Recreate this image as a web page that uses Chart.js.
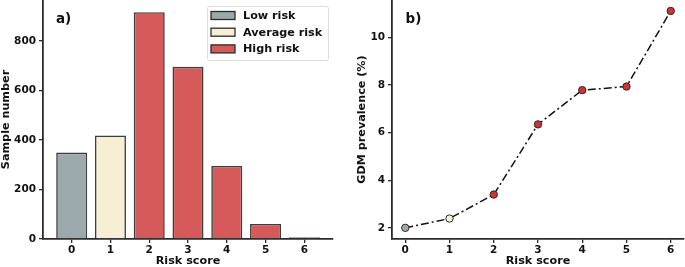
<!DOCTYPE html>
<html>
<head>
<meta charset="utf-8">
<script src="https://cdn.jsdelivr.net/npm/chart.js@4.4.1/dist/chart.umd.min.js"></script>
<style>
  body { margin: 0; background: #fff; }
  .panel { position: absolute; top: 0; }
</style>
</head>
<body>
<div class="panel" style="left:0"><canvas id="barChart" width="340" height="267"></canvas></div>
<div class="panel" style="left:345px"><canvas id="lineChart" width="340" height="267"></canvas></div>
<script>
// risk score categories
const riskScores = [0, 1, 2, 3, 4, 5, 6];
// a) number of samples per risk score
const sampleCounts = [349, 418, 916, 695, 295, 61, 7];
// b) GDM prevalence (%) per risk score
const gdmPrevalence = [2.0, 2.39, 3.40, 6.35, 7.79, 7.94, 11.12];

const yTicksA = [0, 200, 400, 600, 800];
const yTicksB = [2, 4, 6, 8, 10];

const riskGroups = ['Low risk', 'Average risk', 'High risk'];
const groupOfScore = [0, 1, 2, 2, 2, 2, 2];

const barColors = ['#9ba9ad', '#f7efd3', '#d65a5a'];
const pointColors = ['#9ba9ad', '#f7efd3', '#cc3535'];
const edge = '#2b2b2b';
const fontFamily = '"DejaVu Sans", sans-serif';

Chart.defaults.font.family = fontFamily;
Chart.defaults.font.weight = 'bold';
Chart.defaults.color = '#111';

// fixes axis box sizes so the plot areas line up like the reference
function fixedWidth(w) {
  return function (scale) {
    scale.width = w;
    scale.paddingTop = 0;
    scale.paddingBottom = 0;
  };
}
function fixedHeight(h) {
  return function (scale) {
    scale.height = h;
    scale.paddingLeft = 0;
    scale.paddingRight = 0;
  };
}
function setTicks(values) {
  return function (scale) {
    scale.ticks = values.map(v => ({ value: v }));
  };
}

const panelLabel = {
  id: 'panelLabel',
  afterDraw(chart, args, opts) {
    const ctx = chart.ctx;
    const area = chart.chartArea;
    ctx.save();
    ctx.font = 'bold 13.5px ' + fontFamily;
    ctx.fillStyle = '#111';
    ctx.textBaseline = 'middle';
    ctx.fillText(opts.text, area.left + opts.dx, area.top + 19.5);
    ctx.restore();
  }
};

const boxLegend = {
  id: 'boxLegend',
  afterDraw(chart, args, opts) {
    if (!opts.show) return;
    const ctx = chart.ctx;
    const area = chart.chartArea;
    const w = 121, h = 54;
    const x = area.right - 5 - w, y = area.top + 6;
    ctx.save();
    ctx.fillStyle = 'rgba(255,255,255,0.85)';
    ctx.strokeStyle = '#dddddd';
    ctx.lineWidth = 1;
    ctx.beginPath();
    ctx.roundRect(x + 0.5, y + 0.5, w, h, 2);
    ctx.fill();
    ctx.stroke();
    ctx.font = 'bold 11.2px ' + fontFamily;
    ctx.textBaseline = 'middle';
    riskGroups.forEach((label, i) => {
      const cy = y + 9.5 + i * 16.7;
      ctx.fillStyle = barColors[i];
      ctx.fillRect(x + 4, cy - 4, 24, 8);
      ctx.strokeStyle = edge;
      ctx.lineWidth = 1.3;
      ctx.strokeRect(x + 4, cy - 4, 24, 8);
      ctx.fillStyle = '#111';
      ctx.fillText(label, x + 36, cy + 0.5);
    });
    ctx.restore();
  }
};

function axisX(min, max) {
  return {
    type: 'linear',
    min: min,
    max: max,
    offset: false,
    afterBuildTicks: setTicks(riskScores),
    afterFit: fixedHeight(28),
    border: { color: edge, width: 1.8 },
    grid: { drawOnChartArea: false, drawTicks: true, tickLength: 4, color: edge, lineWidth: 1.3, offset: false },
    ticks: { font: { size: 10.5, weight: 'bold' }, padding: 1, color: '#111' },
    title: { display: true, text: 'Risk score', font: { size: 11.2, weight: 'bold', lineHeight: 1 }, padding: { top: 0, bottom: 0 }, color: '#111' }
  };
}

function axisY(min, max, ticks, width, title, titlePad) {
  return {
    type: 'linear',
    min: min,
    max: max,
    afterBuildTicks: setTicks(ticks),
    afterFit: fixedWidth(width),
    border: { color: edge, width: 1.8 },
    grid: { drawOnChartArea: false, drawTicks: true, tickLength: 4, color: edge, lineWidth: 1.3 },
    ticks: { font: { size: 10.5, weight: 'bold' }, padding: 3, color: '#111' },
    title: { display: true, text: title, font: { size: 11.2, weight: 'bold', lineHeight: 1 }, padding: { top: titlePad, bottom: 0 }, color: '#111' }
  };
}

new Chart(document.getElementById('barChart'), {
  type: 'bar',
  data: {
    datasets: [{
      data: riskScores.map((s, i) => ({ x: s, y: sampleCounts[i] })),
      backgroundColor: groupOfScore.map(g => barColors[g]),
      borderColor: 'rgba(40,40,40,0.9)',
      borderWidth: 1.6,
      barPercentage: 0.8,
      categoryPercentage: 1.0
    }]
  },
  options: {
    responsive: false,
    animation: false,
    layout: { autoPadding: false, padding: { top: 0, right: 7, bottom: 0, left: 0 } },
    plugins: {
      legend: { display: false },
      tooltip: { enabled: false },
      panelLabel: { text: 'a)', dx: 13 },
      boxLegend: { show: true }
    },
    scales: {
      x: axisX(-0.74, 6.74),
      y: axisY(0, 965, yTicksA, 43, 'Sample number', 0)
    }
  },
  plugins: [panelLabel, boxLegend]
});

new Chart(document.getElementById('lineChart'), {
  type: 'line',
  data: {
    datasets: [{
      data: riskScores.map((s, i) => ({ x: s, y: gdmPrevalence[i] })),
      borderColor: '#111',
      borderWidth: 1.5,
      borderDash: [8, 3, 2, 3],
      tension: 0,
      fill: false,
      pointRadius: 3.7,
      pointBorderWidth: 1,
      pointBorderColor: edge,
      pointBackgroundColor: groupOfScore.map(g => pointColors[g])
    }]
  },
  options: {
    responsive: false,
    animation: false,
    layout: { autoPadding: false, padding: { top: 0, right: 1, bottom: 0, left: 0 } },
    plugins: {
      legend: { display: false },
      tooltip: { enabled: false },
      panelLabel: { text: 'b)', dx: 13.5 },
      boxLegend: { show: false }
    },
    scales: {
      x: axisX(-0.3, 6.3),
      y: axisY(1.53, 11.58, yTicksB, 47, 'GDM prevalence (%)', 11)
    }
  },
  plugins: [panelLabel, boxLegend]
});
</script>
</body>
</html>
